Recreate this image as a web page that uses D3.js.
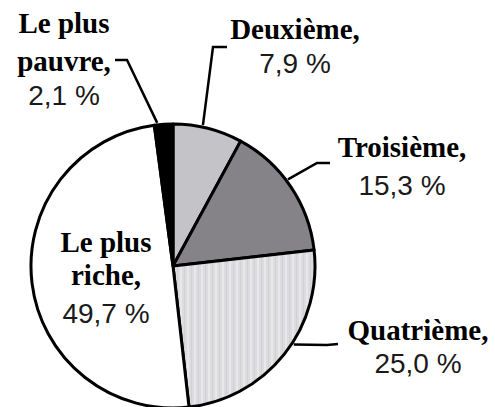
<!DOCTYPE html>
<html><head><meta charset="utf-8">
<script src="https://cdn.jsdelivr.net/npm/d3@7"></script>
<style>html,body{margin:0;padding:0;background:#fff;overflow:hidden}</style>
</head><body><svg id="c" width="495" height="407"></svg>
<script>
// ---- data ----
const categories = ["Deuxième", "Troisième", "Quatrième", "Le plus riche", "Le plus pauvre"];
const values = [7.9, 15.3, 25.0, 49.7, 2.1];
const nameLines = [["Deuxième,"], ["Troisième,"], ["Quatrième,"], ["Le plus", "riche,"], ["Le plus", "pauvre,"]];
const percentLabels = ["7,9 %", "15,3 %", "25,0 %", "49,7 %", "2,1 %"];

// ---- styles / layout ----
const fills = ["#c4c4c8", "#858388", "url(#stripes)", "#ffffff", "#000000"];
const cx = 173, cy = 266, R = 142;
const layout = [
  {x: 295, ys: [39], py: 73, leader: [[227, 47], [213, 47]], ang: 12},
  {x: 402, ys: [157], py: 195, leader: [[330, 163], [317, 163]], ang: 53},
  {x: 418, ys: [340], py: 373, leader: [[338, 344], [327, 345]], ang: 123},
  {x: 106, ys: [252, 285], py: 323, leader: null},
  {x: 64, ys: [33, 71], py: 105, leader: [[115, 60], [127, 60]], ang: -6.3}
];

const svg = d3.select("#c");
const defs = svg.append("defs");
const pat = defs.append("pattern").attr("id", "stripes").attr("patternUnits", "userSpaceOnUse")
  .attr("width", 7).attr("height", 4);
pat.append("rect").attr("width", 7).attr("height", 4).attr("fill", "#dcdce0");
pat.append("rect").attr("x", 0).attr("width", 2).attr("height", 4).attr("fill", "#e8e8ea");
pat.append("rect").attr("x", 4).attr("width", 1).attr("height", 4).attr("fill", "#d0d3d0");

const pie = d3.pie().sort(null).value(d => d);
const arcs = pie(values);
const arc = d3.arc().innerRadius(0).outerRadius(R);

const g = svg.append("g").attr("transform", `translate(${cx},${cy})`);
g.selectAll("path.slice").data(arcs).join("path")
  .attr("class", "slice")
  .attr("d", arc)
  .attr("fill", (d, i) => fills[i])
  .attr("stroke", "#000").attr("stroke-width", 3).attr("stroke-linejoin", "round");

// leaders
const line = d3.line();
layout.forEach((L, i) => {
  if (!L.leader) return;
  const a = L.ang * Math.PI / 180;
  const r2 = R + 2;
  const end = [cx + r2 * Math.sin(a), cy - r2 * Math.cos(a)];
  svg.append("path").attr("d", line([...L.leader, end]))
    .attr("fill", "none").attr("stroke", "#000").attr("stroke-width", 2.5);
});

// labels
layout.forEach((L, i) => {
  nameLines[i].forEach((t, k) => {
    svg.append("text").attr("x", L.x).attr("y", L.ys[k])
      .attr("text-anchor", "middle")
      .attr("font-family", "'Liberation Serif','Times New Roman',serif")
      .attr("font-weight", "bold").attr("font-size", 29).attr("fill", "#000")
      .text(t);
  });
  svg.append("text").attr("x", L.x).attr("y", L.py)
    .attr("text-anchor", "middle")
    .attr("font-family", "'Liberation Sans',Arial,sans-serif")
    .attr("font-size", 28).attr("fill", "#1a1a1a")
    .text(percentLabels[i]);
});
</script></body></html>
